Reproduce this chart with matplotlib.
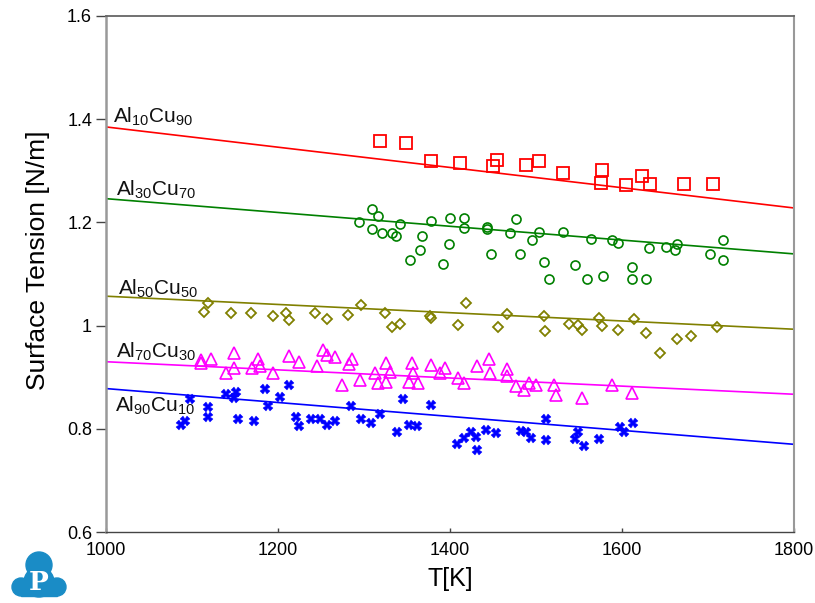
import matplotlib
matplotlib.use('Agg')
import matplotlib.pyplot as plt
from matplotlib.patches import Circle, Rectangle

plt.rcParams['font.family'] = ['Liberation Sans', 'DejaVu Sans']
plt.rcParams['mathtext.default'] = 'regular'

# measured points (T in K, surface tension in N/m)
red_T = [1319, 1349, 1378, 1412, 1450, 1455, 1489, 1504, 1532, 1577, 1576, 1605, 1624, 1633, 1672, 1706]
red_s = [1.358, 1.353, 1.319, 1.315, 1.309, 1.321, 1.311, 1.319, 1.295, 1.302, 1.277, 1.272, 1.289, 1.274, 1.274, 1.274]

green_T = [1294, 1309, 1316, 1309, 1321, 1333, 1337, 1342, 1367, 1365, 1354, 1378, 1392, 1400, 1399,
           1416, 1416, 1443, 1443, 1448, 1470, 1477, 1481, 1496, 1504, 1509, 1515, 1532, 1545, 1560,
           1564, 1578, 1589, 1596, 1612, 1612, 1628, 1632, 1651, 1662, 1664, 1703, 1718, 1718]
green_s = [1.200, 1.225, 1.213, 1.187, 1.179, 1.180, 1.174, 1.196, 1.174, 1.147, 1.128, 1.202, 1.119, 1.208, 1.159,
           1.208, 1.189, 1.192, 1.187, 1.139, 1.180, 1.207, 1.139, 1.165, 1.182, 1.124, 1.090, 1.181, 1.117, 1.090,
           1.168, 1.096, 1.165, 1.161, 1.114, 1.090, 1.090, 1.150, 1.153, 1.147, 1.159, 1.139, 1.165, 1.128]

olive_T = [1114, 1119, 1145, 1169, 1194, 1209, 1213, 1243, 1257, 1281, 1297, 1324, 1333, 1342, 1377, 1378, 1410,
           1419, 1456, 1466, 1509, 1511, 1538, 1549, 1554, 1573, 1577, 1596, 1614, 1628, 1644, 1664, 1681, 1711]
olive_s = [1.026, 1.043, 1.025, 1.025, 1.019, 1.025, 1.011, 1.024, 1.013, 1.020, 1.040, 1.025, 0.997, 1.004, 1.019,
           1.014, 1.001, 1.043, 0.998, 1.022, 1.019, 0.990, 1.004, 1.001, 0.991, 1.014, 1.000, 0.991, 1.012, 0.986,
           0.946, 0.975, 0.980, 0.997]

mag_T = [1110, 1111, 1122, 1140, 1149, 1149, 1170, 1177, 1179, 1194, 1213, 1225, 1245, 1252, 1257, 1266,
         1275, 1283, 1286, 1295, 1313, 1316, 1326, 1330, 1326, 1356, 1357, 1352, 1363, 1378, 1388, 1394,
         1409, 1416, 1432, 1445, 1447, 1466, 1466, 1477, 1486, 1492, 1500, 1521, 1523, 1554, 1589, 1612]
mag_s = [0.933, 0.927, 0.935, 0.909, 0.947, 0.917, 0.917, 0.935, 0.922, 0.909, 0.941, 0.930, 0.922, 0.953, 0.943, 0.939,
         0.885, 0.926, 0.935, 0.895, 0.909, 0.888, 0.927, 0.911, 0.891, 0.928, 0.909, 0.891, 0.888, 0.923, 0.909, 0.918,
         0.899, 0.889, 0.922, 0.935, 0.909, 0.915, 0.902, 0.883, 0.875, 0.889, 0.885, 0.885, 0.866, 0.860, 0.885, 0.870]

blue_T = [1087, 1092, 1098, 1119, 1119, 1140, 1149, 1151, 1153, 1172, 1185, 1189, 1202, 1213, 1221, 1224,
          1239, 1249, 1257, 1266, 1285, 1297, 1308, 1319, 1339, 1346, 1352, 1362, 1378, 1408, 1416, 1424,
          1430, 1431, 1442, 1454, 1483, 1488, 1494, 1512, 1512, 1545, 1549, 1556, 1573, 1598, 1603, 1613]
blue_s = [0.807, 0.816, 0.857, 0.842, 0.823, 0.867, 0.859, 0.872, 0.819, 0.816, 0.878, 0.845, 0.862, 0.885, 0.823, 0.805,
          0.819, 0.819, 0.807, 0.815, 0.845, 0.819, 0.811, 0.829, 0.793, 0.858, 0.807, 0.805, 0.847, 0.771, 0.782, 0.793,
          0.785, 0.758, 0.798, 0.791, 0.796, 0.793, 0.782, 0.819, 0.778, 0.780, 0.793, 0.767, 0.780, 0.803, 0.794, 0.812]

# model lines, values at 1000 K and 1800 K
line_T = [1000, 1800]
red_line = [1.385, 1.228]
green_line = [1.246, 1.139]
olive_line = [1.057, 0.993]
mag_line = [0.930, 0.867]
blue_line = [0.878, 0.770]

labels = [r'Al$_{10}$Cu$_{90}$', r'Al$_{30}$Cu$_{70}$', r'Al$_{50}$Cu$_{50}$',
          r'Al$_{70}$Cu$_{30}$', r'Al$_{90}$Cu$_{10}$']
label_T = [1008, 1012, 1014, 1012, 1010]
label_s = [1.393, 1.251, 1.059, 0.937, 0.833]

fig = plt.figure(figsize=(8.15, 6.03), dpi=100)
ax = fig.add_axes([0.130, 0.1177, 0.844, 0.8558])

ax.plot(line_T, red_line, color='#ff0000', lw=1.2)
ax.plot(line_T, green_line, color='#008000', lw=1.2)
ax.plot(line_T, olive_line, color='#808000', lw=1.2)
ax.plot(line_T, mag_line, color='#ff00ff', lw=1.2)
ax.plot(line_T, blue_line, color='#0000ff', lw=1.2)

ax.plot(red_T, red_s, 's', mfc='none', mec='#ff0000', ms=8.5, mew=1.3, ls='none')
ax.plot(green_T, green_s, 'o', mfc='none', mec='#008000', ms=6.5, mew=1.2, ls='none')
ax.plot(olive_T, olive_s, 'D', mfc='none', mec='#808000', ms=5.5, mew=1.3, ls='none')
ax.plot(mag_T, mag_s, '^', mfc='none', mec='#ff00ff', ms=8, mew=1.2, ls='none')
ax.plot(blue_T, blue_s, 'X', color='#0000ff', mec='#0000ff', ms=6.5, mew=0.3, ls='none')

for lab, t, s in zip(labels, label_T, label_s):
    ax.text(t, s, lab, fontsize=15, color='#111111', va='baseline', ha='left')

ax.set_xlim(1000, 1800)
ax.set_ylim(0.6, 1.6)
ax.set_xticks([1000, 1200, 1400, 1600, 1800])
ax.set_yticks([0.6, 0.8, 1.0, 1.2, 1.4, 1.6])
ax.set_yticklabels(['0.6', '0.8', '1', '1.2', '1.4', '1.6'])
ax.tick_params(axis='y', direction='out', length=7, width=1, color='#444444', labelsize=13, pad=3)
ax.tick_params(axis='x', direction='in', length=3, width=1, color='#444444', labelsize=13, pad=7)
ax.set_xlabel('T[K]', fontsize=18, labelpad=6)
ax.set_ylabel('Surface Tension [N/m]', fontsize=19)
ax.yaxis.set_label_coords(-0.081, 0.527)

ax.spines['top'].set_color('#666666')
ax.spines['bottom'].set_color('#444444')
ax.spines['left'].set_color('#999999')
ax.spines['right'].set_color('#999999')
ax.spines['left'].set_linewidth(1.8)
ax.spines['right'].set_linewidth(1.5)
ax.spines['top'].set_linewidth(1.3)
ax.spines['bottom'].set_linewidth(1.0)

# logo in the lower left corner (pixel units)
lg = fig.add_axes([0, 0, 80 / 815, 63 / 603])
lg.set_xlim(0, 80)
lg.set_ylim(63, 0)
lg.set_aspect('equal')
lg.axis('off')
logo_blue = '#1a8cc6'
lg.add_patch(Circle((39, 25), 13, color=logo_blue))
lg.add_patch(Circle((21, 47), 9, color=logo_blue))
lg.add_patch(Circle((57, 47), 9, color=logo_blue))
lg.add_patch(Circle((39, 42), 15, color=logo_blue))
lg.add_patch(Rectangle((21, 40), 36, 16, color=logo_blue))
lg.text(39, 42, 'P', color='white', fontsize=19, fontweight='bold',
        family='DejaVu Serif', ha='center', va='center')

fig.savefig('out.png', dpi=100)
